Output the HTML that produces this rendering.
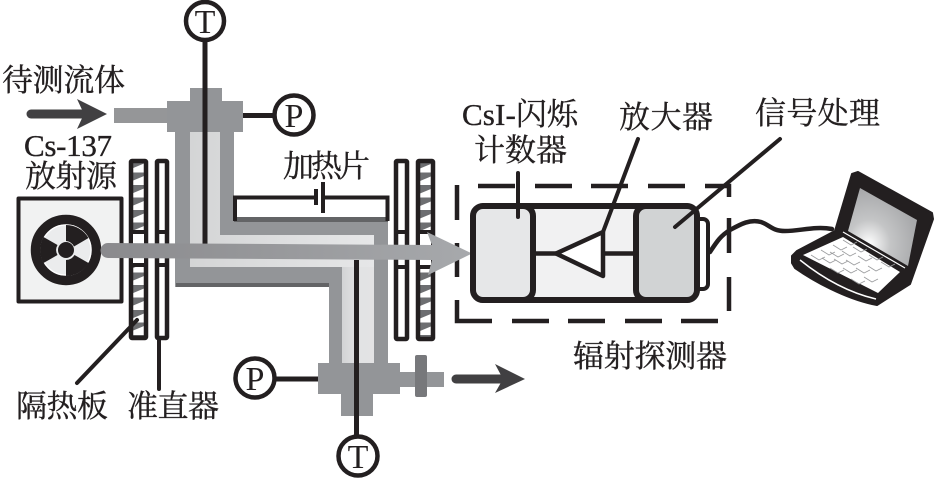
<!DOCTYPE html>
<html><head><meta charset="utf-8"><style>
html,body{margin:0;padding:0;background:#fff;width:945px;height:489px;overflow:hidden}
svg{display:block}
text{font-family:"Liberation Serif","Noto Serif CJK SC",serif;fill:#231f20}
</style></head><body>
<svg width="945" height="489" viewBox="0 0 945 489" xmlns="http://www.w3.org/2000/svg">
<defs>
<pattern id="h" width="12" height="12.5" patternUnits="userSpaceOnUse" patternTransform="translate(0,160)">
<rect width="12" height="12.5" fill="#fff"/>
<path d="M0 0H12V3.5L0 8.5Z" fill="#6d6e71"/>
</pattern>
<linearGradient id="lh" x1="0" x2="1" y1="0" y2="0"><stop offset="0" stop-color="#d4d5d6"/><stop offset="1" stop-color="#e6e7e8"/></linearGradient>
<linearGradient id="lv" x1="0" x2="1" y1="0" y2="0"><stop offset="0" stop-color="#d2d3d5"/><stop offset=".5" stop-color="#e2e3e4"/><stop offset="1" stop-color="#e3e3e4"/></linearGradient>
<linearGradient id="b" x1="0" x2="1" y1="0" y2="0"><stop offset="0" stop-color="#8a8a8d"/><stop offset="1" stop-color="#a7a9ac"/></linearGradient>
<radialGradient id="scr" cx=".3" cy=".72" r=".7"><stop offset="0" stop-color="#fff"/><stop offset=".45" stop-color="#c4c5c6"/><stop offset="1" stop-color="#a8a9ab"/></radialGradient>
</defs>

<!-- pipe -->
<rect x="114" y="108" width="55" height="15" fill="#959698"/>
<path d="M175 130H234V217H388V365H329V287H175Z" fill="#939598"/>
<path d="M190 132H220V235H374V363H342V267H190Z" fill="url(#lh)"/>
<rect x="342" y="267" width="32" height="96" fill="url(#lv)"/>
<rect x="234" y="217" width="154" height="5" fill="#636466"/>
<rect x="176" y="283" width="153" height="4" fill="#636466"/>
<path d="M190 88H222V101H243V132H167V101H190Z" fill="#939598"/>
<path d="M318 363H400V372H444V387H400V394H373V416H341V394H318Z" fill="#939598"/>
<rect x="415" y="355" width="12" height="42" rx="2" fill="#77787b"/>

<!-- source -->
<rect x="18.500" y="198.500" width="103" height="103" fill="#f1f2f2" stroke="#231f20" stroke-width="4" stroke-linejoin="round"/>
<circle cx="66" cy="250" r="30.500" fill="#ebeced" stroke="#231f20" stroke-width="9.500"/>
<circle cx="66" cy="250" r="25" fill="none" stroke="#fff" stroke-width="1.200"/>
<g fill="#231f20">
<circle cx="66" cy="250" r="8"/>
<path d="M66 224A26 26 0 0 1 88.500 237L74 245.500A10 10 0 0 0 66 240Z" transform="translate(0,1)"/>
<path d="M88.500 263A26 26 0 0 1 66 276V260A10 10 0 0 0 74.500 255Z"/>
<path d="M43.500 237A26 26 0 0 0 43.500 263L57.500 255A10 10 0 0 1 57.500 245Z"/>
</g>

<!-- plates -->
<g stroke="#231f20" stroke-width="4.500" stroke-linejoin="round">
<rect x="131" y="161" width="15" height="177" rx="1" fill="url(#h)"/>
<rect x="157" y="161" width="10" height="177" rx="1" fill="#fff"/>
<rect x="396" y="161" width="11" height="178" rx="1" fill="#fff"/>
<rect x="418" y="161" width="15" height="178" rx="1" fill="url(#h)"/>
</g>
<rect x="133" y="233" width="11" height="32" fill="#fff"/>
<rect x="420" y="233" width="11" height="34" fill="#fff"/>
<g stroke="#231f20" stroke-width="4">
<path d="M131 232H146M131 265H146M157 232H167M157 265H167M396 232H407M396 267H407M418 232H433M418 267H433"/>
</g>

<!-- detector box dashed -->
<g fill="none" stroke="#231f20" stroke-width="4.500" stroke-linecap="butt">
<path d="M478 186H515M535 186H572M591 186H628M648 186H685M705 186H729V197M729 218V253M729 277V311"/>
<path d="M457 185V220M457 243V277M457 300V321H492M512 321H549M568 321H605M625 321H662M681 321H718"/>
</g>

<!-- heater -->
<g fill="none" stroke="#231f20" stroke-width="4">
<path d="M235 221V197.500H316M316 189V205M323 182V213M323 197.500H387.500V221"/>
</g>

<!-- thermocouple & pressure -->
<g stroke="#231f20" fill="none">
<path d="M205 40V245" stroke-width="5"/>
<path d="M356.500 260V437" stroke-width="5"/>
<path d="M243 115.500H274" stroke-width="5"/>
<path d="M275 379H318" stroke-width="5"/>
<circle cx="205" cy="21" r="19" stroke-width="4.500" fill="#fff"/>
<circle cx="294" cy="115" r="19.500" stroke-width="4.500" fill="#fff"/>
<circle cx="255" cy="378" r="19.500" stroke-width="4.500" fill="#fff"/>
<circle cx="358" cy="456" r="19.500" stroke-width="4.500" fill="#fff"/>
</g>
<text x="205" y="33" font-size="34" text-anchor="middle">T</text>
<text x="294" y="127" font-size="34" text-anchor="middle">P</text>
<text x="255" y="390" font-size="34" text-anchor="middle">P</text>
<text x="358" y="468" font-size="34" text-anchor="middle">T</text>

<!-- beam -->
<path d="M108 243L432 245L427 232L472 253.500L428 275L432 260L108 258A7.500 7.500 0 0 1 108 243Z" fill="url(#b)"/>

<!-- flow arrows -->
<path d="M84 114L77 99L107 114L77 129Z" fill="#414042"/>
<path d="M31 114H84" stroke="#414042" stroke-width="9" stroke-linecap="round"/>
<path d="M503 379L495 364L525 379L495 393Z" fill="#414042"/>
<path d="M456 379H503" stroke="#414042" stroke-width="9" stroke-linecap="round"/>

<!-- detector -->
<rect x="695" y="219" width="13" height="70" rx="5" fill="#fff" stroke="#231f20" stroke-width="4"/>
<rect x="473" y="206" width="224" height="94" rx="12" fill="#f1f1f2" stroke="#231f20" stroke-width="6"/>
<rect x="473" y="206" width="60" height="94" rx="10" fill="#e6e7e8" stroke="#231f20" stroke-width="6"/>
<rect x="636" y="206" width="61" height="94" rx="10" fill="#d1d3d4" stroke="#231f20" stroke-width="6"/>
<path d="M535 253.500H556M603 253.500H634" stroke="#231f20" stroke-width="4.500"/>
<path d="M556 253.500L603 232V276Z" fill="#fff" stroke="#231f20" stroke-width="4.500" stroke-linejoin="round"/>

<!-- leaders -->
<g stroke="#231f20" stroke-width="4" stroke-linecap="round" fill="none">
<path d="M518 173V217"/>
<path d="M638 139L603 232"/>
<path d="M780 139L675 227"/>
<path d="M159 339V389"/>
<path d="M77 383L137 320"/>
<path d="M710 252C716 243 720 236 730 230C741 224 750 219 761 222C770 225 772 231 785 231C800 231 815 226 832 229" stroke-width="4.500"/>
</g>

<!-- laptop -->
<path d="M852 174L858 172L932 213L933 219L910 284L877 305L872 304C845 298 815 282 795 268L792 263L792 256L797 251L835 231Z" fill="#231f20" stroke="#231f20" stroke-width="2" stroke-linejoin="round"/>
<path d="M860 188L917 220L908 266L848 231Z" fill="url(#scr)"/>
<path d="M843 237L900 272L878 293L803 255Z" fill="#fff"/>
<g stroke="#9a9b9d" stroke-width=".8" fill="none">
<path d="M833 245l8 5 6-3M843 240l8 5 6-3M821 250l8 5 6-3M830 252l8 5 6-3M842 251l8 5 6-3M853 247l8 5 6-3M811 255l8 5 6-3M822 258l8 5 6-3M834 259l8 5 6-3M846 260l8 5 6-3M858 256l8 5 6-3M869 255l8 5 6-3M830 268l8 5 6-3M843 268l8 5 6-3M856 268l8 5 6-3M868 266l8 5 6-3M881 262l8 5 6-3M851 279l8 5 6-3M864 277l8 5 6-3"/>
</g>
<path d="M800 260C825 280 850 293 876 299" stroke="#fff" stroke-width="1.500" fill="none"/>
<path d="M843 232L905 268" stroke="#fff" stroke-width="1.200" fill="none"/>

<!-- labels -->
<g font-size="31" stroke="#231f20" stroke-width=".35">
<text x="2" y="91" textLength="123">待测流体</text>
<text x="24" y="156" textLength="88">Cs-137</text>
<text x="25" y="187" textLength="92">放射源</text>
<text x="283" y="177" textLength="87">加热片</text>
<text x="462" y="125" textLength="116">CsI-闪烁</text>
<text x="474" y="161" textLength="93">计数器</text>
<text x="619" y="128" textLength="94">放大器</text>
<text x="755" y="124" textLength="125">信号处理</text>
<text x="573" y="367" textLength="154">辐射探测器</text>
<text x="16" y="417" textLength="92">隔热板</text>
<text x="127" y="417" textLength="92">准直器</text>
</g>
</svg>
</body></html>
